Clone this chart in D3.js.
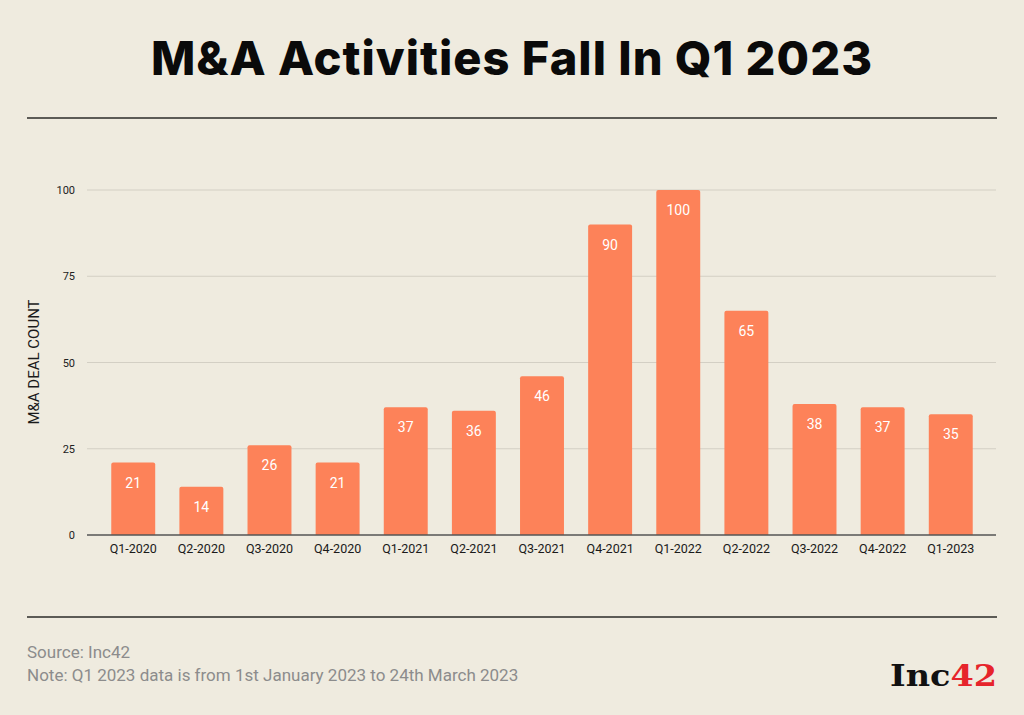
<!DOCTYPE html>
<html>
<head>
	<meta charset="utf-8">
	<title>M&amp;A Activities</title>
	<script src="https://d3js.org/d3.v7.min.js"></script>
	<style>
		body { margin: 0; background: #efebdf; }
	</style>
</head>
<body>
	<script>
		var quarters = ["Q1-2020", "Q2-2020", "Q3-2020", "Q4-2020", "Q1-2021", "Q2-2021", "Q3-2021",
						"Q4-2021", "Q1-2022", "Q2-2022", "Q3-2022", "Q4-2022", "Q1-2023"];
		var deals = [21, 14, 26, 21, 37, 36, 46, 90, 100, 65, 38, 37, 35];
		var yTicks = [0, 25, 50, 75, 100];

		var W = 1024, H = 715;

		var svg = d3.select("body").append("svg")
						.attr("width", W)
						.attr("height", H);

		svg.append("rect")
			.attr("width", W).attr("height", H)
			.attr("fill", "#efebdf");

		// title + rules
		svg.append("text")
			.attr("x", 151).attr("y", 75)
			.attr("font-family", "Inter, sans-serif")
			.attr("font-weight", 800)
			.attr("font-size", "47px")
			.attr("textLength", 721)
			.attr("lengthAdjust", "spacing")
			.attr("fill", "#0a0a0a")
			.text("M&A Activities Fall In Q1 2023");

		svg.append("line").attr("x1", 27).attr("x2", 997).attr("y1", 118).attr("y2", 118)
			.attr("stroke", "#2b2b28").attr("stroke-width", 1.5);
		svg.append("line").attr("x1", 27).attr("x2", 997).attr("y1", 617).attr("y2", 617)
			.attr("stroke", "#2b2b28").attr("stroke-width", 1.5);

		var x = d3.scaleBand()
					.domain(quarters)
					.range([99, 985])
					.paddingInner(0.355)
					.paddingOuter(0.18);

		var y = d3.scaleLinear()
					.domain([0, 100])
					.range([535, 190]);

		// gridlines
		svg.append("g")
			.selectAll("line")
			.data(yTicks.slice(1))
			.enter().append("line")
			.attr("x1", 87).attr("x2", 996)
			.attr("y1", function (d) { return y(d); })
			.attr("y2", function (d) { return y(d); })
			.attr("stroke", "#d3cfc4")
			.attr("stroke-width", 1);

		// y axis labels
		var yAxis = d3.axisLeft(y).tickValues(yTicks).tickSize(0).tickPadding(0);
		var gy = svg.append("g")
			.attr("transform", "translate(75,0)")
			.call(yAxis);
		gy.select(".domain").remove();
		gy.selectAll("text")
			.attr("font-family", "Roboto, sans-serif")
			.attr("font-size", "11px")
			.attr("fill", "#222");

		svg.append("text")
			.attr("transform", "translate(39,362) rotate(-90)")
			.attr("text-anchor", "middle")
			.attr("font-family", "Roboto, sans-serif")
			.attr("font-size", "15px")
			.attr("fill", "#1a1a1a")
			.text("M&A DEAL COUNT");

		// bars
		var bars = svg.append("g").selectAll("g")
			.data(deals)
			.enter().append("g");

		bars.append("path")
			.attr("d", function (d, i) {
				var x0 = x(quarters[i]), w = x.bandwidth(), top = y(d), bot = y(0), r = 2;
				return "M" + x0 + "," + bot + "V" + (top + r) + "Q" + x0 + "," + top + " " + (x0 + r) + "," + top +
					"H" + (x0 + w - r) + "Q" + (x0 + w) + "," + top + " " + (x0 + w) + "," + (top + r) + "V" + bot + "Z";
			})
			.attr("fill", "#fd8259");

		bars.append("text")
			.attr("x", function (d, i) { return x(quarters[i]) + x.bandwidth() / 2; })
			.attr("y", function (d) { return y(d) + 25; })
			.attr("text-anchor", "middle")
			.attr("font-family", "Roboto, sans-serif")
			.attr("font-size", "14px")
			.attr("fill", "#fff")
			.text(function (d) { return d; });

		// x axis
		var xAxis = d3.axisBottom(x).tickSize(0).tickPadding(9);
		var gx = svg.append("g")
			.attr("transform", "translate(0,535)")
			.call(xAxis);
		gx.select(".domain").remove();
		gx.selectAll("text")
			.attr("font-family", "Roboto, sans-serif")
			.attr("font-size", "12.5px")
			.attr("fill", "#1a1a1a");
		svg.append("line").attr("x1", 87).attr("x2", 996).attr("y1", 535).attr("y2", 535)
			.attr("stroke", "#555").attr("stroke-width", 1.5);

		// footer
		svg.append("text")
			.attr("x", 27).attr("y", 658)
			.attr("font-family", "Roboto, sans-serif")
			.attr("font-size", "17px")
			.attr("fill", "#8c8c8c")
			.text("Source: Inc42");
		svg.append("text")
			.attr("x", 27).attr("y", 681)
			.attr("font-family", "Roboto, sans-serif")
			.attr("font-size", "17px")
			.attr("fill", "#8c8c8c")
			.text("Note: Q1 2023 data is from 1st January 2023 to 24th March 2023");

		var logo = svg.append("text")
			.attr("x", 890).attr("y", 686)
			.attr("font-family", "'DejaVu Serif', serif")
			.attr("font-weight", "bold")
			.attr("font-size", "30px")
			.attr("textLength", 107)
			.attr("lengthAdjust", "spacingAndGlyphs");
		logo.append("tspan").attr("fill", "#111").text("Inc");
		logo.append("tspan").attr("fill", "#e6242b").text("42");
	</script>
</body>
</html>
